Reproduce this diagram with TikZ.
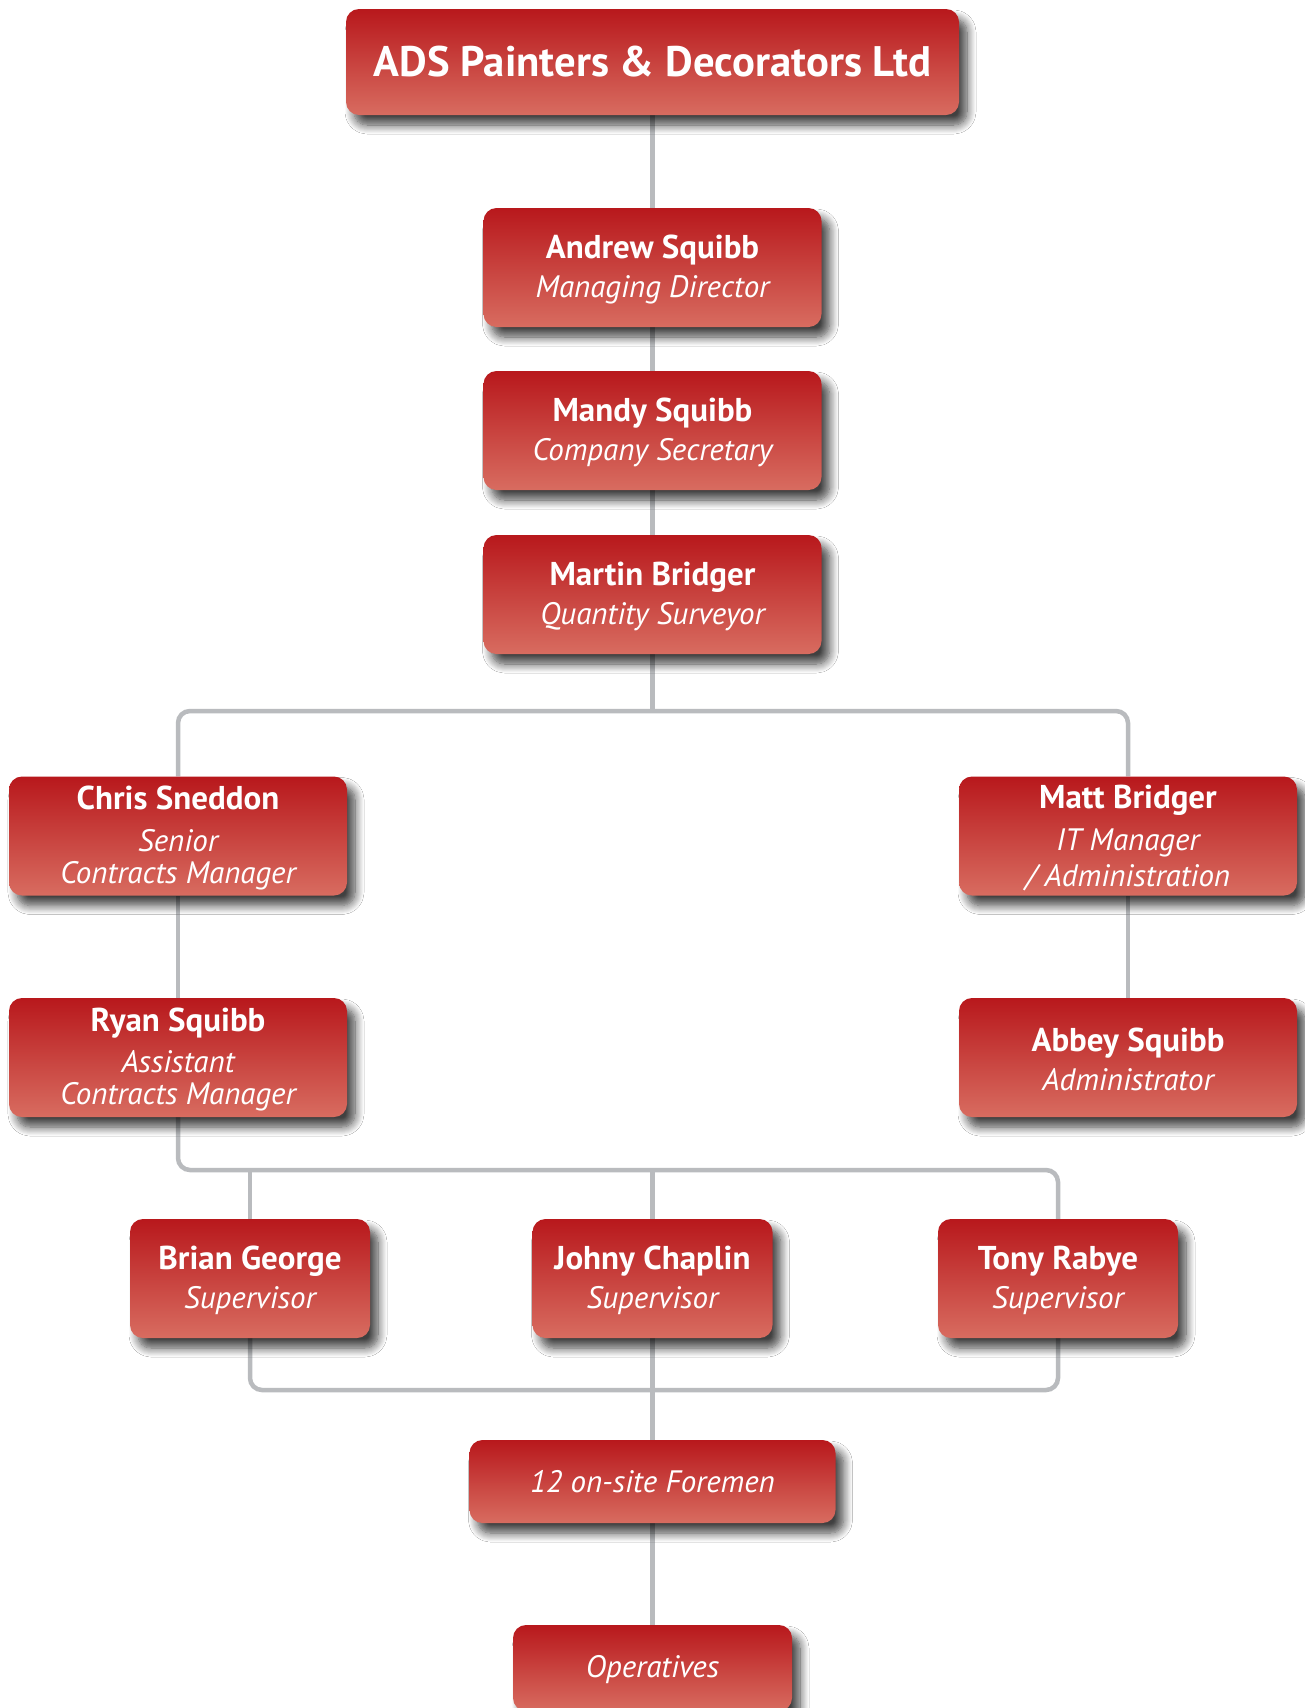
\documentclass[tikz,border=0pt]{standalone}
\usepackage{fontspec}
\setmainfont{PT Sans}
\usetikzlibrary{shadows.blur,backgrounds}
\definecolor{boxtop}{RGB}{184,24,28}
\definecolor{boxbot}{RGB}{216,108,96}
\definecolor{linegray}{RGB}{185,187,190}
\newcommand{\nm}{\fontsize{33}{38}\selectfont\bfseries\upshape\rule[-8pt]{0pt}{36pt}}
\newcommand{\rl}{\fontsize{31}{31}\selectfont\mdseries\itshape\rule[-2pt]{0pt}{31pt}}
\newcommand{\rlone}{\fontsize{31}{31}\selectfont\mdseries\itshape\rule[-5pt]{0pt}{31pt}}
\tikzset{
  box/.style={rounded corners=13pt, top color=boxtop, bottom color=boxbot, draw=none,
    text=white, align=center, inner sep=0pt,
    blur shadow={shadow xshift=8pt, shadow yshift=-10pt, shadow blur steps=10, shadow blur radius=9pt, shadow opacity=75}},
  bigbox/.style={box, minimum width=338pt, minimum height=119pt},
  supbox/.style={box, minimum width=240pt, minimum height=119pt},
  conn/.style={draw=linegray, line width=4.5pt, rounded corners=12pt},
}
\begin{document}
\begin{tikzpicture}[x=1pt,y=-1pt]
\useasboundingbox (0,0) rectangle (1305,1708);
\clip (0,0) rectangle (1305,1708);
% nodes
\node[box, minimum width=613pt, minimum height=106pt] (title) at (652.5,62)
  {\fontsize{42.7}{48}\selectfont\bfseries ADS Painters \& Decorators Ltd};
\node[bigbox] (andrew) at (652.5,267.5) {\nm Andrew Squibb\\[1pt]\rl Managing Director};
\node[bigbox] (mandy) at (652.5,430.5) {\nm Mandy Squibb\\[1pt]\rl Company Secretary};
\node[bigbox] (martin) at (652.5,594.5) {\nm Martin Bridger\\[1pt]\rl Quantity Surveyor};
\node[bigbox] (chris) at (178,836) {\nm Chris Sneddon\\[3.5pt]\rl Senior\\\rl Contracts Manager};
\node[bigbox] (matt) at (1128,836) {\nm Matt Bridger\\[3.5pt]\rl IT Manager\\\rl / Administration};
\node[bigbox] (ryan) at (178,1057.5) {\nm Ryan Squibb\\[3.5pt]\rl Assistant\\\rl Contracts Manager};
\node[bigbox] (abbey) at (1128,1057.5) {\nm Abbey Squibb\\[1pt]\rl Administrator};
\node[supbox] (brian) at (250,1278.5) {\nm Brian George\\[1pt]\rl Supervisor};
\node[supbox] (johny) at (652.5,1278.5) {\nm Johny Chaplin\\[1pt]\rl Supervisor};
\node[supbox] (tony) at (1058,1278.5) {\nm Tony Rabye\\[1pt]\rl Supervisor};
\node[box, minimum width=366pt, minimum height=83pt] (foremen) at (652.5,1481.5) {\rlone 12 on-site Foremen};
\node[box, minimum width=279pt, minimum height=86pt] (operatives) at (652.5,1668) {\rlone Operatives};
\coordinate (j1) at (652.5,711);
\coordinate (j2) at (652.5,1170);
\coordinate (j3) at (652.5,1390);
% connectors
\begin{scope}[on background layer]
\fill[white] (0,0) rectangle (1305,1708);
\draw[conn] (title.south) -- (andrew.north);
\draw[conn] (andrew.south) -- (mandy.north);
\draw[conn] (mandy.south) -- (martin.north);
\draw[conn] (martin.south) -- (j1);
\draw[conn] (chris.north) |- (j1) -| (matt.north);
\draw[conn] (chris.south) -- (ryan.north);
\draw[conn] (matt.south) -- (abbey.north);
\draw[conn] (ryan.south) |- (j2) -| (tony.north);
\draw[conn] (brian.north) -- (brian.north |- j2);
\draw[conn] (johny.north) -- (j2);
\draw[conn] (brian.south) |- (j3) -| (tony.south);
\draw[conn] (johny.south) -- (foremen.north);
\draw[conn] (foremen.south) -- (operatives.north);
\end{scope}
\end{tikzpicture}
\end{document}
